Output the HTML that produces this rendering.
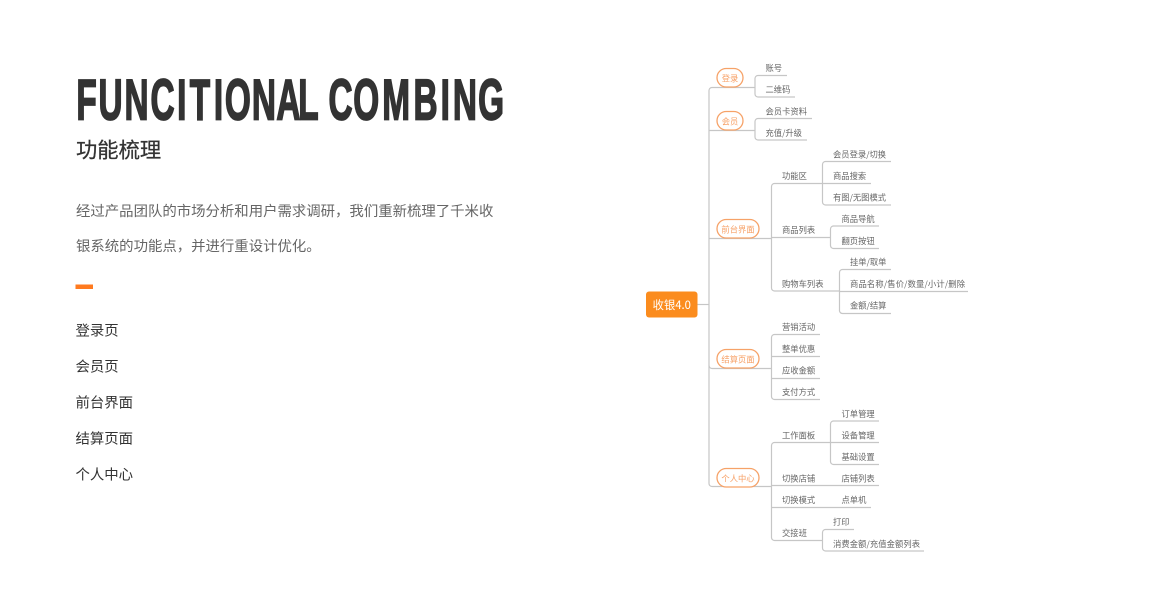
<!DOCTYPE html>
<html lang="zh"><head><meta charset="utf-8"><title>功能梳理</title>
<style>
html,body{margin:0;padding:0;background:#fff;width:1152px;height:600px;overflow:hidden}
svg{display:block}
text{font-family:"Noto Sans CJK SC","Liberation Sans",sans-serif}
.t{font-family:"Liberation Sans",sans-serif}
.n text{font-size:8.3px;fill:#666}
.p text{font-size:8.3px;fill:#f7a066}
.l path{fill:none;stroke:#c6c6c6;stroke-width:1.2}
.p rect{fill:#fff;stroke:#f6a268;stroke-width:1.3}
.b text{font-size:14.4px;fill:#666}
.m text{font-size:14.4px;fill:#333}
</style></head><body>
<svg width="1152" height="600" viewBox="0 0 1152 600" xmlns="http://www.w3.org/2000/svg">
<rect width="1152" height="600" fill="#fff"/>
<g transform="scale(.58,1)">
<text class="t" y="119.3" font-size="57.5" font-weight="700" fill="#333" stroke="#333" stroke-width="1.8" x="131.6 169.9 214.7 259.5 305.5 327.1 368.8 387.8 434.3 476.6 514.3 551.7 566.4 609 659 712.9 759.7 780.9 824.3">FUNCITIONAL COMBING</text>
</g>
<text x="76" y="157.5" font-size="21.3" fill="#333" stroke="#333" stroke-width=".25">功能梳理</text>
<g class="b">
<text x="76" y="216">经过产品团队的市场分析和用户需求调研，我们重新梳理了千米收</text>
<text x="76" y="251">银系统的功能点，并进行重设计优化。</text>
</g>
<rect x="75.500" y="284.500" width="17.500" height="4.500" fill="#ff7a1f"/>
<g class="m">
<text x="75.500" y="335.500">登录页</text>
<text x="75.500" y="371.500">会员页</text>
<text x="75.500" y="407.500">前台界面</text>
<text x="75.500" y="443.500">结算页面</text>
<text x="75.500" y="479.500">个人中心</text>
</g>
<g class="l">
<path d="M697 304.500H709"/>
<path d="M755 87.500H712a3 3 0 0 0-3 3V483.500a3 3 0 0 0 3 3H771.500"/>
<path d="M709 130.500H755M709 238.500H771.500M709 365.500a3 3 0 0 0 3 3H771.500"/>
<path d="M787 75.500H758a3 3 0 0 0-3 3V94a3 3 0 0 0 3 3H795"/>
<path d="M812 118.500H758a3 3 0 0 0-3 3V137a3 3 0 0 0 3 3H807"/>
<path d="M822.500 183.500H774.500a3 3 0 0 0-3 3V288a3 3 0 0 0 3 3H839"/>
<path d="M891 161.500H825.500a3 3 0 0 0-3 3V202a3 3 0 0 0 3 3H891M822.500 183.500H871"/>
<path d="M771.500 237.500H830.500"/>
<path d="M879 226H833.500a3 3 0 0 0-3 3V245.500a3 3 0 0 0 3 3H879"/>
<path d="M891 269.500H842.500a3 3 0 0 0-3 3V310a3 3 0 0 0 3 3.500H891M839 291.500H968"/>
<path d="M820 334.500H774.500a3 3 0 0 0-3 3V396.500a3 3 0 0 0 3 3H820M771.500 356.500H820M771.500 378.500H820"/>
<path d="M830.500 442.500H774.500a3 3 0 0 0-3 3V537.500a3 3 0 0 0 3 3H822.500"/>
<path d="M879 421H833.500a3 3 0 0 0-3 3V461.500a3 3 0 0 0 3 3H879M830.500 442.500H879"/>
<path d="M771.500 485.500H879M771.500 507.500H871"/>
<path d="M854 529.500H825.500a3 3 0 0 0-3 3V548a3 3 0 0 0 3 3H924"/>
</g>
<rect x="646" y="291.500" width="51.500" height="26" rx="3" fill="#fb8c1e"/>
<text x="671.800" y="309" font-size="11.300" fill="#fff" text-anchor="middle">收银4.0</text>
<g class="p">
<rect x="717" y="68.500" width="26" height="18.500" rx="9.200"/><text x="730" y="81.500" text-anchor="middle">登录</text>
<rect x="717" y="111.500" width="26" height="18.500" rx="9.200"/><text x="730" y="124.500" text-anchor="middle">会员</text>
<rect x="717" y="219.500" width="42" height="18.500" rx="9.200"/><text x="738" y="232.500" text-anchor="middle">前台界面</text>
<rect x="717" y="349.500" width="42" height="18.500" rx="9.200"/><text x="738" y="362.500" text-anchor="middle">结算页面</text>
<rect x="717" y="468.500" width="42" height="18.500" rx="9.200"/><text x="738" y="481.500" text-anchor="middle">个人中心</text>
</g>
<g class="n">
<text x="765.500" y="71">账号</text>
<text x="765.500" y="92.500">二维码</text>
<text x="765.500" y="114.500">会员卡资料</text>
<text x="765.500" y="136">充值/升级</text>
<text x="782" y="179">功能区</text>
<text x="833" y="157.500">会员登录/切换</text>
<text x="833" y="179">商品搜索</text>
<text x="833" y="200.500">有图/无图模式</text>
<text x="782" y="233">商品列表</text>
<text x="841.500" y="222">商品导航</text>
<text x="841.500" y="244">翻页按钮</text>
<text x="782" y="287">购物车列表</text>
<text x="850" y="265">挂单/取单</text>
<text x="850" y="287" textLength="115">商品名称/售价/数量/小计/删除</text>
<text x="850" y="308.500">金额/结算</text>
<text x="782" y="330">营销活动</text>
<text x="782" y="352">整单优惠</text>
<text x="782" y="373.500">应收金额</text>
<text x="782" y="395">支付方式</text>
<text x="782" y="438.500">工作面板</text>
<text x="841.500" y="417">订单管理</text>
<text x="841.500" y="438.500">设备管理</text>
<text x="841.500" y="460">基础设置</text>
<text x="782" y="481.500">切换店铺</text>
<text x="841.500" y="481.500">店铺列表</text>
<text x="782" y="503">切换模式</text>
<text x="841.500" y="503">点单机</text>
<text x="782" y="536">交接班</text>
<text x="833" y="525">打印</text>
<text x="833" y="547" textLength="87">消费金额/充值金额列表</text>
</g>
</svg>
</body></html>
